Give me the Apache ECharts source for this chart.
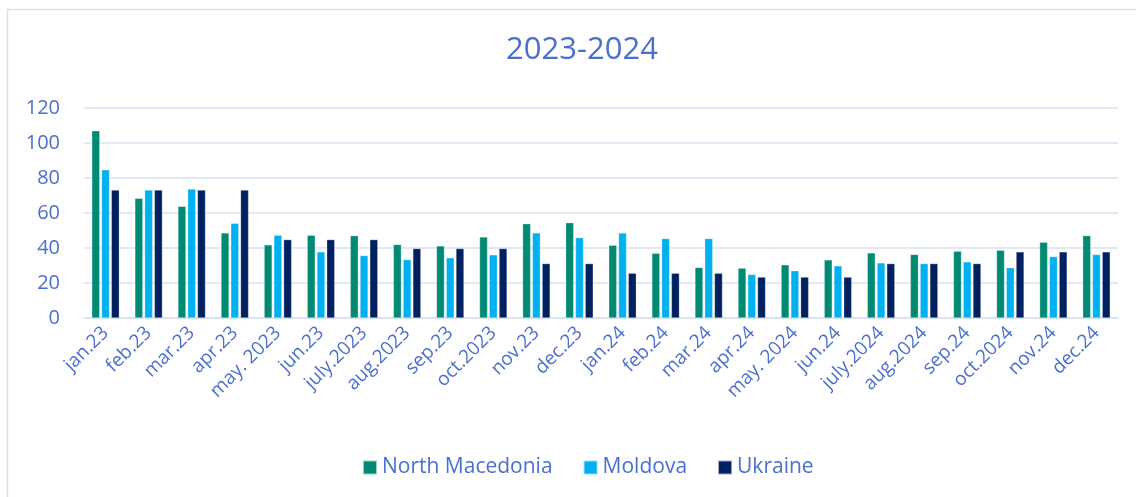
<!DOCTYPE html>
<html>
<head>
<meta charset="utf-8">
<script src="https://cdn.jsdelivr.net/npm/echarts@6/dist/echarts.min.js"></script>
<style>
  html, body { margin: 0; padding: 0; background: #fff; }
  #chart { width: 1136px; height: 497px; }
</style>
</head>
<body>
<div id="chart"></div>
<script>
  const months = ['jan.23', 'feb.23', 'mar.23', 'apr.23', 'may. 2023', 'jun.23', 'july.2023', 'aug.2023',
    'sep.23', 'oct.2023', 'nov.23', 'dec.23', 'jan.24', 'feb.24', 'mar.24', 'apr.24', 'may. 2024',
    'jun.24', 'july.2024', 'aug.2024', 'sep.24', 'oct.2024', 'nov.24', 'dec.24']
  const northMacedonia = [107, 68.4, 63.8, 48.6, 41.8, 47.3, 47.1, 42, 41.2, 46.3, 53.9, 54.5,
    41.6, 37, 28.9, 28.5, 30.4, 33.2, 37.2, 36.3, 38.2, 38.7, 43.3, 47.1]
  const moldova = [84.7, 73.1, 73.7, 54.1, 47.3, 37.8, 35.7, 33.4, 34.4, 36.1, 48.6, 45.9,
    48.6, 45.4, 45.4, 24.9, 27, 29.8, 31.5, 31.1, 32.1, 28.7, 35.1, 36.3]
  const ukraine = [73.1, 73.1, 73.1, 73.1, 44.8, 44.8, 44.8, 39.7, 39.7, 39.7, 31.1, 31.1,
    25.6, 25.6, 25.6, 23.4, 23.4, 23.4, 31.1, 31.1, 31.1, 37.8, 37.8, 37.8]

  const textColor = '#4A6FD0'
  const font = 'Open Sans'

  const chart = echarts.init(document.getElementById('chart'))

  // one bar series per country
  function barSeries(name, color, data) {
    return {
      name: name,
      type: 'bar',
      data: data,
      barWidth: 8,
      barGap: '22%',
      itemStyle: {
        color: color,
        borderColor: 'rgba(255,255,255,0.6)',
        borderWidth: 0.5
      },
      animation: false
    }
  }

  chart.setOption({
    backgroundColor: '#fff',
    graphic: [{
      type: 'rect',
      shape: { x: 7.5, y: 9.5, width: 1200, height: 600 },
      style: { fill: 'none', stroke: '#D9E1F2', lineWidth: 1.5 },
      silent: true
    }],
    title: {
      text: '2023-2024',
      left: 577,
      top: 30,
      textAlign: 'center',
      textStyle: {
        color: textColor,
        fontFamily: font,
        fontSize: 31,
        fontWeight: 'normal'
      }
    },
    legend: {
      data: ['North Macedonia', 'Moldova', 'Ukraine'],
      left: 357,
      top: 452,
      itemWidth: 14,
      itemHeight: 14,
      itemGap: 30,
      icon: 'rect',
      textStyle: {
        color: textColor,
        fontFamily: font,
        fontSize: 21
      }
    },
    grid: {
      left: 84,
      right: 18,
      top: 108,
      bottom: 179
    },
    xAxis: {
      type: 'category',
      data: months,
      axisTick: { show: false },
      axisLine: { lineStyle: { color: '#D9E1F2', width: 1.5 } },
      axisLabel: {
        rotate: 45,
        interval: 0,
        margin: 12,
        color: textColor,
        fontFamily: font,
        fontSize: 19
      }
    },
    yAxis: {
      type: 'value',
      min: 0,
      max: 120,
      interval: 20,
      axisLine: { show: false },
      axisTick: { show: false },
      splitLine: { lineStyle: { color: '#D9E1F2', width: 1.5 } },
      axisLabel: {
        margin: 24,
        color: textColor,
        fontFamily: font,
        fontSize: 20
      }
    },
    series: [
      barSeries('North Macedonia', '#008A74', northMacedonia),
      barSeries('Moldova', '#00B0F0', moldova),
      barSeries('Ukraine', '#002060', ukraine)
    ]
  })
</script>
</body>
</html>
